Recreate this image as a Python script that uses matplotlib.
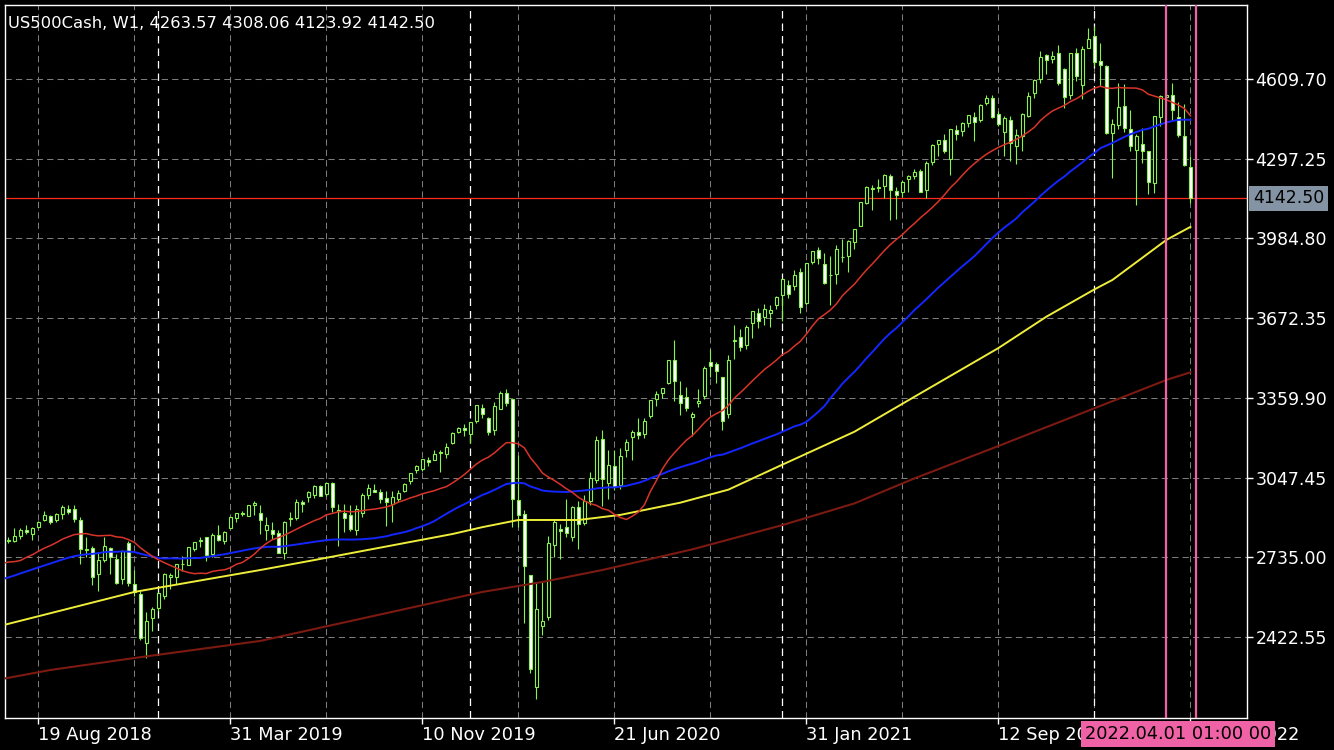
import datetime
import numpy as np
import matplotlib.pyplot as plt
from matplotlib.transforms import blended_transform_factory

# weekly bars of US500Cash (W1), first bar is the week of 8 Jul 2018
first_week = np.datetime64("2018-07-08")

opens = [
    2764, 2797, 2800, 2819, 2840, 2828, 2852, 2881, 2897, 2881, 2903, 2926, 2923,
    2882, 2763, 2773, 2670, 2726, 2773, 2730, 2649, 2790, 2630, 2590, 2400, 2498,
    # 2019
    2535, 2585, 2657, 2658, 2707, 2705, 2769, 2800, 2813, 2747, 2822, 2798, 2848,
    2888, 2908, 2898, 2940, 2908, 2840, 2841, 2830, 2752, 2886, 2889, 2952, 2971,
    2980, 3014, 2983, 3025, 2917, 2908, 2900, 2840, 2910, 2980, 3000, 2990, 2967,
    2944, 2965, 2996, 3035, 3078, 3081, 3117, 3117, 3144, 3141, 3183, 3226, 3240,
    # 2020
    3217, 3271, 3321, 3282, 3235, 3318, 3380, 3355, 2960, 2905, 2665, 2226, 2465,
    2500, 2782, 2845, 2854, 2815, 2931, 2870, 2955, 3038, 3199, 3026, 3094, 3019,
    3155, 3205, 3224, 3219, 3288, 3357, 3380, 3419, 3509, 3370, 3363, 3285, 3341,
    3367, 3500, 3493, 3441, 3296, 3583, 3600, 3566, 3653, 3694, 3675, 3694, 3723,
    # 2021
    3764, 3803, 3797, 3855, 3732, 3892, 3939, 3885, 3843, 3844, 3913, 3916, 3969,
    4035, 4124, 4183, 4185, 4192, 4228, 4170, 4168, 4216, 4230, 4248, 4173, 4284,
    4356, 4372, 4297, 4409, 4406, 4437, 4461, 4450, 4514, 4536, 4474, 4402, 4449,
    4348, 4385, 4463, 4553, 4610, 4702, 4689, 4712, 4650, 4548, 4710, 4588, 4733,
    # 2022
    4778, 4680, 4660, 4398, 4431, 4505, 4413, 4332, 4354, 4327, 4202, 4462, 4541,
    4547, 4462, 4385, 4263.57,
]
highs = [
    2804, 2814, 2848, 2848, 2863, 2855, 2876, 2916, 2900, 2908, 2941, 2940, 2940,
    2894, 2816, 2779, 2756, 2815, 2775, 2746, 2765, 2800, 2685, 2601, 2520, 2538,
    2597, 2675, 2672, 2708, 2738, 2776, 2794, 2814, 2816, 2831, 2861, 2836, 2893,
    2910, 2917, 2940, 2954, 2938, 2892, 2875, 2841, 2876, 2911, 2964, 2958, 2996,
    3018, 3018, 3028, 3028, 2945, 2944, 2940, 2940, 2985, 3021, 3022, 3002, 2993,
    2993, 3000, 3027, 3067, 3098, 3120, 3128, 3154, 3154, 3183, 3226, 3247, 3258,
    3267, 3330, 3337, 3285, 3342, 3385, 3393, 3360, 3137, 2920, 2665, 2638, 2641,
    2818, 2880, 2867, 2965, 2935, 2955, 2980, 3068, 3211, 3233, 3155, 3155, 3165,
    3200, 3235, 3280, 3279, 3352, 3388, 3399, 3509, 3588, 3425, 3402, 3306, 3393,
    3485, 3550, 3502, 3441, 3529, 3645, 3628, 3644, 3699, 3712, 3726, 3723, 3760,
    3827, 3820, 3860, 3870, 3887, 3937, 3951, 3928, 3915, 3960, 3983, 3978, 4020,
    4129, 4192, 4194, 4219, 4238, 4238, 4188, 4214, 4234, 4255, 4258, 4287, 4356,
    4372, 4393, 4415, 4429, 4441, 4468, 4480, 4510, 4546, 4548, 4485, 4465, 4465,
    4412, 4475, 4559, 4608, 4718, 4708, 4718, 4744, 4652, 4713, 4732, 4740, 4808,
    4818, 4749, 4666, 4454, 4595, 4590, 4490, 4395, 4416, 4327, 4465, 4546, 4637,
    4594, 4521, 4513, 4308.06,
]
lows = [
    2764, 2790, 2796, 2805, 2826, 2802, 2848, 2878, 2864, 2875, 2886, 2903, 2874,
    2710, 2736, 2628, 2604, 2715, 2670, 2631, 2631, 2621, 2583, 2409, 2340, 2444,
    2525, 2570, 2612, 2631, 2681, 2703, 2760, 2774, 2722, 2735, 2800, 2785, 2848,
    2873, 2896, 2898, 2900, 2825, 2801, 2805, 2750, 2728, 2859, 2880, 2913, 2953,
    2967, 2975, 2977, 2914, 2778, 2834, 2836, 2822, 2891, 2964, 2990, 2946, 2856,
    2874, 2952, 2992, 3023, 3065, 3075, 3091, 3115, 3070, 3123, 3180, 3223, 3212,
    3181, 3263, 3281, 3214, 3214, 3315, 3328, 2855, 2855, 2478, 2280, 2180, 2430,
    2490, 2735, 2727, 2813, 2797, 2767, 2860, 2940, 3025, 2936, 2965, 3000, 3001,
    3127, 3115, 3200, 3204, 3280, 3327, 3360, 3415, 3349, 3293, 3310, 3209, 3323,
    3354, 3441, 3419, 3234, 3279, 3511, 3544, 3552, 3594, 3633, 3647, 3636, 3707,
    3663, 3750, 3784, 3694, 3725, 3884, 3885, 3806, 3723, 3805, 3894, 3853, 3944,
    4034, 4118, 4098, 4165, 4142, 4057, 4062, 4149, 4168, 4217, 4165, 4144, 4271,
    4309, 4321, 4233, 4372, 4385, 4423, 4367, 4440, 4506, 4456, 4427, 4306, 4288,
    4278, 4329, 4459, 4537, 4595, 4630, 4672, 4585, 4495, 4532, 4600, 4531, 4733,
    4662, 4582, 4395, 4222, 4414, 4401, 4327, 4115, 4279, 4157, 4161, 4424, 4507,
    4450, 4381, 4267, 4123.92,
]
closes = [
    2801, 2802, 2819, 2840, 2833, 2850, 2875, 2902, 2872, 2905, 2930, 2914, 2886,
    2767, 2768, 2658, 2723, 2781, 2736, 2633, 2760, 2633, 2600, 2417, 2486, 2532,
    2596, 2671, 2665, 2707, 2708, 2776, 2793, 2804, 2743, 2822, 2801, 2834, 2893,
    2907, 2905, 2940, 2946, 2881, 2860, 2826, 2752, 2873, 2887, 2950, 2942, 2990,
    3014, 2977, 3026, 2932, 2922, 2889, 2847, 2926, 2979, 3007, 2992, 2962, 2952,
    2970, 2986, 3023, 3067, 3093, 3120, 3110, 3141, 3146, 3169, 3221, 3240, 3235,
    3265, 3330, 3295, 3226, 3328, 3380, 3338, 2965, 2900, 2700, 2297, 2532, 2485,
    2790, 2875, 2837, 2831, 2930, 2864, 2955, 3044, 3194, 3041, 3098, 3009, 3130,
    3185, 3225, 3216, 3271, 3351, 3373, 3397, 3508, 3427, 3341, 3319, 3298, 3348,
    3477, 3484, 3465, 3270, 3510, 3585, 3558, 3638, 3699, 3663, 3709, 3703, 3756,
    3825, 3768, 3841, 3714, 3887, 3934, 3907, 3811, 3842, 3943, 3913, 3975, 4020,
    4129, 4185, 4180, 4181, 4233, 4174, 4156, 4204, 4230, 4247, 4166, 4281, 4352,
    4370, 4327, 4412, 4395, 4437, 4468, 4442, 4509, 4535, 4459, 4433, 4455, 4357,
    4391, 4471, 4545, 4605, 4697, 4683, 4698, 4595, 4538, 4712, 4620, 4726, 4766,
    4677, 4663, 4398, 4432, 4501, 4419, 4349, 4385, 4329, 4204, 4463, 4543, 4546,
    4488, 4392, 4272, 4142.50,
]
# 52 weekly closes before the first bar (Jul 2017 - Jul 2018), used by the MAs
prior_closes = [
    2459, 2472, 2472, 2476, 2441, 2426, 2443, 2477, 2461, 2500, 2502, 2519, 2549,
    2553, 2575, 2581, 2588, 2582, 2579, 2602, 2642, 2652, 2675, 2683, 2674,
    2743, 2786, 2810, 2873, 2762, 2620, 2732, 2747, 2691, 2786, 2752, 2588, 2641,
    2604, 2656, 2670, 2670, 2663, 2728, 2713, 2721, 2735, 2779, 2780, 2755, 2718,
    2760,
]
# slow averages (bar number, value)
ma100_bar = [0, 22, 43, 52, 75, 80, 86, 96, 103, 113, 121, 130, 142, 152, 166,
             174, 182, 185, 194, 198]
ma100_val = [2468, 2599, 2685, 2724, 2826, 2853, 2881, 2881, 2901, 2949, 3000, 3098,
             3227, 3364, 3555, 3678, 3785, 3822, 3979, 4030]
ma200_bar = [0, 8, 22, 43, 80, 90, 100, 115, 130, 142, 152, 166, 182, 194, 198]
ma200_val = [2258, 2293, 2340, 2407, 2599, 2638, 2685, 2766, 2861, 2946, 3044, 3171,
             3319, 3430, 3460]

price_levels = [2422.55, 2735.00, 3047.45, 3359.90, 3672.35, 3984.80, 4297.25, 4609.70]
date_labels = ["19 Aug 2018", "31 Mar 2019", "10 Nov 2019", "21 Jun 2020",
               "31 Jan 2021", "12 Sep 2021", "24 Apr 2022"]
vline_bars = [194, 199]
vline_text = "2022.04.01 01:00 00"
title = "US500Cash, W1, 4263.57 4308.06 4123.92 4142.50"

GREEN = "#86f54a"
PINK = "#f062a6"
GRID = "#7c7c7c"

o = np.array(opens, float)
h = np.array(highs, float)
l = np.array(lows, float)
c = np.array(closes, float)
n = len(c)
x = np.arange(n)
dates = first_week + 7 * x.astype("timedelta64[D]")

allc = np.concatenate([prior_closes, c])
off = len(prior_closes)


def sma(period):
    return np.array([allc[off + i - period + 1: off + i + 1].mean() for i in range(n)])


plt.rcParams["font.family"] = ["DejaVu Sans"]
fig = plt.figure(figsize=(13.34, 7.5), dpi=100, facecolor="black")
ax = fig.add_axes([4.5 / 1334, 32 / 750, (1247 - 4.5) / 1334, (718 - 5) / 750])
ax.set_facecolor("black")

# grid
for p in price_levels:
    ax.axhline(p, color=GRID, lw=0.75, ls=(0, (6, 4)), zorder=0)
lab_idx = []
for s in date_labels:
    d = np.datetime64(datetime.datetime.strptime(s, "%d %b %Y").date())
    lab_idx.append(int(np.where(dates == d)[0][0]))
for gx in range(lab_idx[0], n, 16):
    ax.axvline(gx, color=GRID, lw=0.75, ls=(0, (6, 4)), zorder=0)
years = dates.astype("datetime64[Y]")
for i in range(1, n):
    if years[i] != years[i - 1]:
        ax.axvline(i, color="white", lw=0.9, ls=(0, (6, 4)), zorder=0.5)

# bid line
ax.axhline(c[-1], color="#ff2a1a", lw=0.9, zorder=1)

# candles
ax.vlines(x, l, h, color=GREEN, lw=0.8, zorder=2)
up = c >= o
body = np.abs(c - o)
ax.bar(x, body, bottom=np.minimum(o, c), width=0.62,
       color=np.where(up, "black", "white"), edgecolor=GREEN, lw=0.8, zorder=3)

# moving averages
ax.plot(ma200_bar, ma200_val, color="#7c1a12", lw=1.5, zorder=4)
ax.plot(ma100_bar, ma100_val, color="#eeee3a", lw=1.4, zorder=4)
ax.plot(x, sma(50), color="#1426ff", lw=1.4, zorder=4)
ax.plot(x, sma(20), color="#d9342a", lw=1.1, zorder=4)

for vb in vline_bars:
    ax.axvline(vb, color=PINK, lw=1.6, zorder=5)

ax.set_xlim(0.35, 207.43)
ax.set_ylim(2104.8, 4899.8)

for sp in ax.spines.values():
    sp.set_color("white")
    sp.set_linewidth(1)

ax.yaxis.tick_right()
ax.set_yticks(price_levels)
ax.set_yticklabels(["%.2f" % p for p in price_levels])
ax.tick_params(axis="y", colors="white", labelcolor="white", labelsize=12.5,
               length=4, width=1, pad=2)
ax.set_xticks(lab_idx)
ax.set_xticklabels(date_labels, ha="left")
ax.tick_params(axis="x", colors="white", labelcolor="white", labelsize=12.8,
               length=4, width=1, pad=2)

ax.text(0.003, 0.985, title, transform=ax.transAxes, color="white",
        fontsize=11.8, va="top", ha="left")

tr = blended_transform_factory(ax.transAxes, ax.transData)
ax.text(1.0048, c[-1], "%.2f" % c[-1], transform=tr, color="black", fontsize=12.5,
        va="center", ha="left", zorder=10,
        bbox=dict(boxstyle="square,pad=0.2", fc="#8494a4", ec="none"))

fig.text(1085 / 1334, 1 - 734 / 750, vline_text, color="black", fontsize=12.8,
         va="center", ha="left", zorder=10,
         bbox=dict(boxstyle="square,pad=0.2", fc=PINK, ec="none"))

fig.savefig("out.png", dpi=100, facecolor="black")
